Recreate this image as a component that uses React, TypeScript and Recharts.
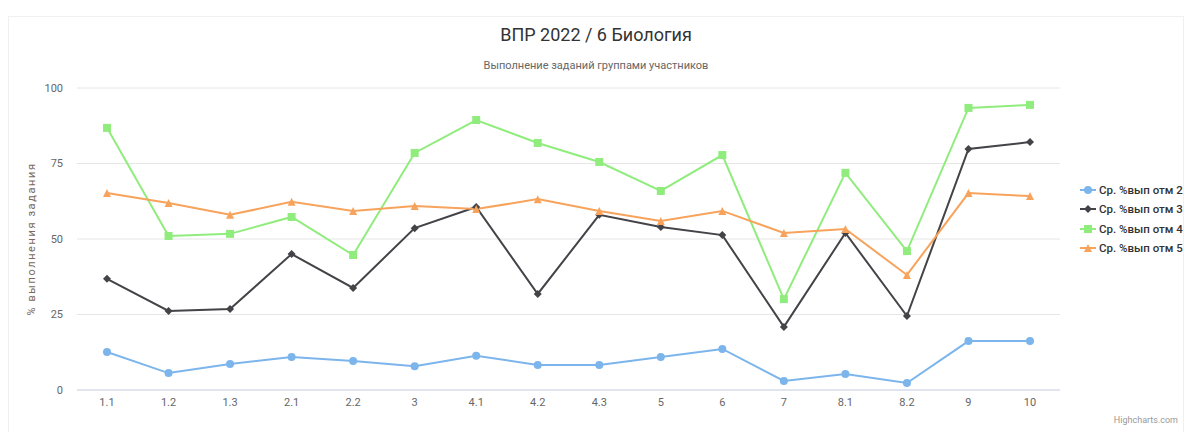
import React from "react";
import { LineChart, Line, XAxis, YAxis, CartesianGrid } from "recharts";

const categories = ["1.1", "1.2", "1.3", "2.1", "2.2", "3", "4.1", "4.2", "4.3", "5", "6", "7", "8.1", "8.2", "9", "10"];
const mark2 = [12.6, 5.6, 8.6, 10.9, 9.6, 7.9, 11.3, 8.3, 8.3, 10.9, 13.6, 3.0, 5.3, 2.3, 16.2, 16.2];
const mark3 = [36.8, 26.2, 26.8, 45.0, 33.8, 53.6, 60.6, 31.8, 58.0, 54.0, 51.3, 20.9, 52.0, 24.5, 79.8, 82.1];
const mark4 = [86.8, 51.0, 51.7, 57.3, 44.7, 78.5, 89.4, 81.8, 75.5, 65.9, 77.8, 30.1, 71.9, 46.0, 93.4, 94.4];
const mark5 = [65.2, 61.9, 58.0, 62.3, 59.3, 60.9, 59.9, 63.2, 59.3, 56.0, 59.3, 52.0, 53.3, 38.1, 65.2, 64.2];
const yTicks = [0, 25, 50, 75, 100];

const series = [
  { key: "m2", name: "Ср. %вып отм 2", color: "#7cb5ec", symbol: "circle" },
  { key: "m3", name: "Ср. %вып отм 3", color: "#434348", symbol: "diamond" },
  { key: "m4", name: "Ср. %вып отм 4", color: "#90ed7d", symbol: "square" },
  { key: "m5", name: "Ср. %вып отм 5", color: "#f7a35c", symbol: "triangle" },
];

const data = categories.map((c, i) => ({
  name: c,
  m2: mark2[i],
  m3: mark3[i],
  m4: mark4[i],
  m5: mark5[i],
}));

const FONT = 'Roboto, "Liberation Sans", Arial, sans-serif';

function Marker({ cx, cy, symbol, color }: { cx: number; cy: number; symbol: string; color: string }) {
  if (cx == null || cy == null) return null;
  if (symbol === "circle") return <circle cx={cx} cy={cy} r={4} fill={color} />;
  if (symbol === "square") return <rect x={cx - 4} y={cy - 4} width={8} height={8} fill={color} />;
  if (symbol === "diamond")
    return <path d={`M${cx} ${cy - 4}L${cx + 4} ${cy}L${cx} ${cy + 4}L${cx - 4} ${cy}Z`} fill={color} />;
  return <path d={`M${cx} ${cy - 4}L${cx + 4} ${cy + 4}L${cx - 4} ${cy + 4}Z`} fill={color} />;
}

function LegendBox() {
  return (
    <div style={{ position: "absolute", left: 1072, top: 172, fontFamily: FONT, whiteSpace: "nowrap" }}>
      {series.map((s) => (
        <div key={s.key} style={{ display: "flex", alignItems: "center", height: 19.5 }}>
          <svg width={16} height={12} style={{ marginRight: 3 }}>
            <line x1={0} y1={6} x2={16} y2={6} stroke={s.color} strokeWidth={2} />
            <Marker cx={8} cy={6} symbol={s.symbol} color={s.color} />
          </svg>
          <span style={{ fontSize: 11.5, fontWeight: 500, color: "#333" }}>{s.name}</span>
        </div>
      ))}
    </div>
  );
}

export default function App() {
  return (
    <div style={{ position: "relative", width: 1176, height: 424, fontFamily: FONT, background: "#fff" }}>
      <div
        style={{
          position: "absolute",
          left: 0,
          top: 8,
          width: 1174,
          height: 420,
          border: "1px solid #f0f0f0",
        }}
      />
      <div style={{ position: "absolute", left: 0, top: 16, width: 1176, textAlign: "center", fontSize: 18, color: "#333" }}>
        ВПР 2022 / 6 Биология
      </div>
      <div style={{ position: "absolute", left: 0, top: 51, width: 1176, textAlign: "center", fontSize: 11, color: "#666" }}>
        Выполнение заданий группами участников
      </div>
      <div style={{ position: "absolute", left: 0, top: 0 }}>
        <LineChart width={1176} height={424} data={data} margin={{ top: 80, right: 124, bottom: 12, left: 29 }}>
          <CartesianGrid vertical={false} stroke="#e6e6e6" />
          <XAxis
            dataKey="name"
            padding={{ left: 30, right: 30 }}
            axisLine={{ stroke: "#ccd6eb" }}
            tickLine={false}
            tick={{ fontSize: 11, fill: "#666" }}
            height={30}
          />
          <YAxis
            domain={[0, 100]}
            ticks={yTicks}
            axisLine={false}
            tickLine={false}
            tickMargin={8}
            width={40}
            tick={{ fontSize: 11, fill: "#666" }}
            label={{
              value: "% выполнения задания",
              angle: -90,
              position: "left",
              offset: 6,
              style: { fontSize: 11, fill: "#7a6a60", letterSpacing: 1.6, textAnchor: "middle" },
            }}
          />
          {series.map((s) => (
            <Line
              key={s.key}
              type="linear"
              dataKey={s.key}
              name={s.name}
              stroke={s.color}
              strokeWidth={2}
              isAnimationActive={false}
              dot={(p: any) => <Marker key={`${s.key}-${p.index}`} cx={p.cx} cy={p.cy} symbol={s.symbol} color={s.color} />}
              activeDot={false}
            />
          ))}
        </LineChart>
      </div>
      <LegendBox />
      <div style={{ position: "absolute", right: 6, top: 407, fontSize: 9, color: "#999" }}>Highcharts.com</div>
    </div>
  );
}
